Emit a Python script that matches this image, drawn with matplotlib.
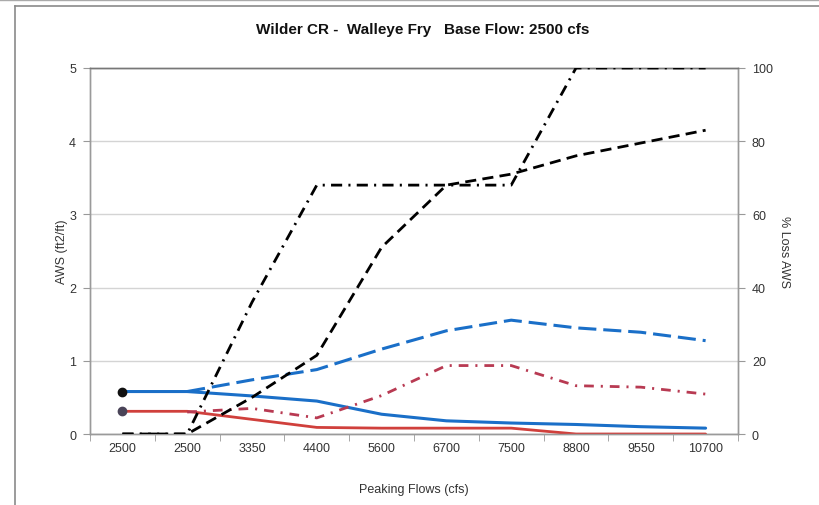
import numpy as np
import matplotlib
matplotlib.use("Agg")
import matplotlib.pyplot as plt
from matplotlib.lines import Line2D

plt.rcParams['font.family'] = ['Liberation Sans', 'DejaVu Sans']
plt.rcParams['lines.scale_dashes'] = False

# ---- data ----
categories = ['2500', '2500', '3350', '4400', '5600', '6700', '7500', '8800', '9550', '10700']
aws_blue = [0.58, 0.58, 0.52, 0.45, 0.27, 0.18, 0.15, 0.13, 0.10, 0.08]
aws_red = [0.31, 0.31, 0.20, 0.09, 0.08, 0.08, 0.08, 0.0, 0.0, 0.0]
loss_blue = [np.nan, 11.6, 14.8, 17.6, 23.2, 28.2, 31.1, 29.0, 27.8, 25.5]
loss_red = [np.nan, 6.0, 7.0, 4.4, 10.5, 18.7, 18.7, 13.2, 12.8, 10.9]
loss_black_dash = [0, 0, 10, 21.5, 51, 68, 71, 76, 79.5, 83]
loss_black_dashdot = [0, 0, 36, 68, 68, 68, 68, 100, 100, 100]

W, H = 820, 506
fig = plt.figure(figsize=(W / 100, H / 100), dpi=100)
ax = fig.add_axes([90 / W, 1 - 435 / H, (738 - 90) / W, (435 - 69) / H])
ax2 = ax.twinx()

x = np.arange(len(categories))
BLUE = '#1a6fc8'
RED = '#d0403c'
MAROON = '#b83a52'
TXT = '#333333'

ax.set_ylim(0, 5)
ax.set_xlim(-0.5, len(categories) - 0.5)
ax2.set_ylim(0, 100)

# grid
for v in range(0, 6):
    ax.axhline(v, color='#d4d4d4', lw=1.0, zorder=0)

# left-axis solid lines
ax.plot(x, aws_blue, color=BLUE, lw=2.2, marker='o', markevery=[0], ms=6,
        mfc='#111111', mec='#111111', zorder=3, solid_capstyle='round')
ax.plot(x, aws_red, color=RED, lw=2.0, marker='o', markevery=[0], ms=6,
        mfc='#4a4458', mec='#4a4458', zorder=3, solid_capstyle='round')

# right-axis dashed lines
ax2.plot(x, loss_blue, color=BLUE, lw=2.2, dashes=(13, 5), zorder=3)
ax2.plot(x, loss_red, color=MAROON, lw=2.0, dashes=(7, 5, 1.5, 5), zorder=3)
ax2.plot(x, loss_black_dash, color='black', lw=2.0, dashes=(8, 4.5), zorder=3)
ax2.plot(x, loss_black_dashdot, color='black', lw=2.0, dashes=(8, 4.5, 1.5, 4.5), zorder=3)

# ticks
ax.set_xticks(x)
ax.set_xticklabels(categories)
ax.set_xticks(np.arange(-0.5, len(categories), 1), minor=True)
ax.tick_params(axis='x', which='major', length=0, labelsize=9, labelcolor=TXT, pad=6)
ax.tick_params(axis='x', which='minor', length=5, color='#999999', direction='out')
ax.set_yticks(range(0, 6))
ax.tick_params(axis='y', length=5, color='#999999', labelsize=9, labelcolor=TXT, pad=5)
ax2.set_yticks(range(0, 101, 20))
ax2.tick_params(axis='y', length=5, color='#999999', labelsize=9, labelcolor=TXT, pad=5)

for a in (ax, ax2):
    for s in a.spines.values():
        s.set_color('#9a9a9a')
        s.set_linewidth(1.0)
ax.spines['top'].set_color('#777777')
ax2.spines['top'].set_color('#777777')

ax.set_ylabel('AWS (ft2/ft)', fontsize=9, color=TXT, labelpad=1)
ax2.set_ylabel('% Loss AWS', fontsize=9, color=TXT, rotation=270, labelpad=12)
ax.set_xlabel('Peaking Flows (cfs)', fontsize=9, color=TXT, labelpad=21)

fig.text(423 / W, 1 - 30 / H, 'Wilder CR -  Walleye Fry   Base Flow: 2500 cfs',
         ha='center', va='center', fontsize=11, fontweight='bold', color='#111111')

# chart-area border
fig.add_artist(Line2D([15 / W, 1.0], [1 - 7 / H, 1 - 7 / H], transform=fig.transFigure,
                      color='#8a8a8a', lw=1.2))
fig.add_artist(Line2D([15 / W, 15 / W], [1 - 7 / H, 0], transform=fig.transFigure,
                      color='#8a8a8a', lw=1.2))
fig.add_artist(Line2D([0, 1.0], [1 - 1 / H, 1 - 1 / H], transform=fig.transFigure,
                      color='#aaaaaa', lw=1.0))

fig.savefig('out.png', dpi=100)
